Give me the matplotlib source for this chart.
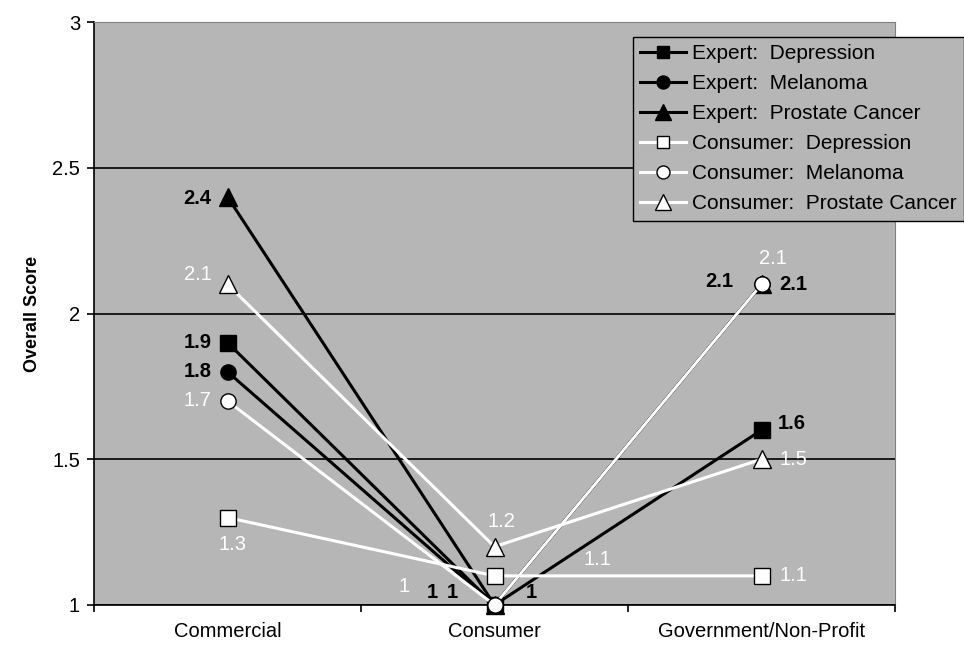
import matplotlib.pyplot as plt

plt.rcParams['font.family'] = ['Liberation Sans', 'DejaVu Sans']

categories = ["Commercial", "Consumer", "Government/Non-Profit"]

series_names = [
    "Expert:  Depression",
    "Expert:  Melanoma",
    "Expert:  Prostate Cancer",
    "Consumer:  Depression",
    "Consumer:  Melanoma",
    "Consumer:  Prostate Cancer",
]
expert_depression = [1.9, 1.0, 1.6]
expert_melanoma = [1.8, 1.0, 2.1]
expert_prostate = [2.4, 1.0, 2.1]
consumer_depression = [1.3, 1.1, 1.1]
consumer_melanoma = [1.7, 1.0, 2.1]
consumer_prostate = [2.1, 1.2, 1.5]

values = [expert_depression, expert_melanoma, expert_prostate,
          consumer_depression, consumer_melanoma, consumer_prostate]
markers = ['s', 'o', '^', 's', 'o', '^']
is_expert = [True, True, True, False, False, False]

# label offsets in pixels (dx, dy) for each point of each series
label_offsets = [
    [(-30, 0), (-62, 13), (30, 7)],
    [(-30, 0), (-42, 13), (-42, 3)],
    [(-30, -2), (37, 12), (32, 0)],
    [(5, -27), (103, 16), (32, 0)],
    [(-30, 0), (-90, 18), (11, 26)],
    [(-30, 10), (7, 25), (32, 0)],
]

fig = plt.figure(figsize=(9.64, 6.48), dpi=100)
ax = fig.add_axes([94/964, 43/648, (895-94)/964, (605-22)/648])
ax.set_facecolor('#b6b6b6')

x = list(range(len(categories)))
for name, vals, mk, exp, offs in zip(series_names, values, markers, is_expert, label_offsets):
    lc = 'black' if exp else 'white'
    fc = 'black' if exp else 'white'
    ms = 13 if mk == '^' else 11
    ax.plot(x, vals, color=lc, lw=2.2, marker=mk, markersize=ms,
            markerfacecolor=fc, markeredgecolor='black', markeredgewidth=1.0,
            label=name, zorder=3, clip_on=False)
    for xi, v, (dx, dy) in zip(x, vals, offs):
        ax.annotate(f"{v:g}", (xi, v), xytext=(dx, dy), textcoords='offset pixels',
                    ha='center', va='center', fontsize=14.5,
                    fontweight='bold' if exp else 'normal',
                    color='black' if exp else 'white', zorder=5)

ax.set_xlim(-0.5, 2.5)
ax.set_ylim(1, 3)
ax.set_yticks([1, 1.5, 2, 2.5, 3])
ax.set_yticklabels(['1', '1.5', '2', '2.5', '3'])
ax.set_xticks(x)
ax.set_xticklabels(categories)
ax.set_xticks([-0.5, 0.5, 1.5, 2.5], minor=True)
ax.tick_params(axis='x', which='major', length=0, pad=12, labelsize=14.5)
ax.tick_params(axis='x', which='minor', length=5, width=1.2, direction='out')
ax.tick_params(axis='y', length=5, width=1.2, direction='out', pad=5, labelsize=14.5)

ax.yaxis.grid(True, color='black', lw=1.2)
ax.set_axisbelow(True)
ax.spines['top'].set_color('#808080')
ax.spines['right'].set_color('#808080')
ax.spines['left'].set_linewidth(1.2)
ax.spines['bottom'].set_linewidth(1.2)

ax.set_ylabel("Overall Score", fontsize=13, fontweight='bold', labelpad=8)

leg = fig.legend(loc='upper left', bbox_to_anchor=(633/964, 1 - 37/648),
                 fontsize=15, handlelength=2.2, handletextpad=0.3,
                 labelspacing=0.53, borderpad=0.35, borderaxespad=0,
                 markerscale=0.85,
                 fancybox=False, framealpha=1, edgecolor='black')
leg.get_frame().set_facecolor('#b6b6b6')
leg.get_frame().set_linewidth(1.0)

fig.savefig("out.png", dpi=100)
